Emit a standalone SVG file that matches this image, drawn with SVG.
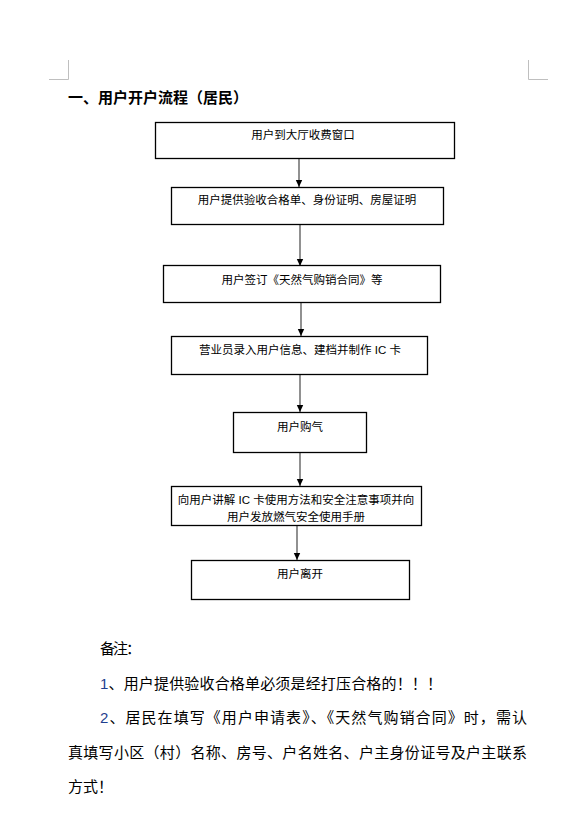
<svg xmlns="http://www.w3.org/2000/svg" width="587" height="828" viewBox="0 0 587 828">
<style>
.box{fill:#fff;stroke:#000;stroke-width:1.3}
.t{font-family:"Liberation Sans","Noto Sans CJK SC",sans-serif;font-size:11.5px;fill:#000;text-anchor:middle}
.body{font-family:"Liberation Sans","Noto Sans CJK SC",sans-serif;font-size:15px;fill:#000}
.title{font-family:"Liberation Sans","Noto Sans CJK SC",sans-serif;font-size:15px;font-weight:bold;fill:#000}
.crop{stroke:#bfbfbf;stroke-width:1;fill:none}
.conn{stroke:#555;stroke-width:1.3;fill:none}
</style>
<defs>
<marker id="ah" markerWidth="8" markerHeight="8" refX="7" refY="4" orient="auto" markerUnits="userSpaceOnUse">
<path d="M0,0.8 L7,4 L0,7.2 Z" fill="#000"/>
</marker>
</defs>
<rect width="587" height="828" fill="#fff"/>
<g id="cropmarks">
<path class="crop" d="M68.5,60 V79.5 H49"/>
<path class="crop" d="M528.5,60 V79.5 H548"/>
</g>
<text class="title" x="68" y="103" textLength="180" lengthAdjust="spacing">一、用户开户流程（居民）</text>
<g id="connectors">
<line class="conn" x1="299" y1="159" x2="299" y2="187" marker-end="url(#ah)"/>
<line class="conn" x1="300" y1="225" x2="300" y2="266" marker-end="url(#ah)"/>
<line class="conn" x1="301" y1="303" x2="301" y2="336" marker-end="url(#ah)"/>
<line class="conn" x1="300" y1="375" x2="300" y2="412" marker-end="url(#ah)"/>
<line class="conn" x1="300" y1="453" x2="300" y2="486" marker-end="url(#ah)"/>
<line class="conn" x1="297" y1="526" x2="297" y2="560" marker-end="url(#ah)"/>
</g>
<g id="n1"><rect class="box" x="155.5" y="122.5" width="299" height="36"/><text class="t" x="303" y="139">用户到大厅收费窗口</text></g>
<g id="n2"><rect class="box" x="171.5" y="187.5" width="272" height="37"/><text class="t" x="307" y="204">用户提供验收合格单、身份证明、房屋证明</text></g>
<g id="n3"><rect class="box" x="163.5" y="265.5" width="277" height="37"/><text class="t" x="302" y="284">用户签订《天然气购销合同》等</text></g>
<g id="n4"><rect class="box" x="171.5" y="336.5" width="256" height="38"/><text class="t" x="300" y="354">营业员录入用户信息、建档并制作 IC 卡</text></g>
<g id="n5"><rect class="box" x="233.5" y="412.5" width="133" height="40"/><text class="t" x="300" y="431">用户购气</text></g>
<g id="n6"><rect class="box" x="171.5" y="486.5" width="250" height="39"/><text class="t" x="296" y="504">向用户讲解 IC 卡使用方法和安全注意事项并向</text><text class="t" x="296" y="521">用户发放燃气安全使用手册</text></g>
<g id="n7"><rect class="box" x="191.5" y="560.5" width="218" height="39"/><text class="t" x="300" y="578">用户离开</text></g>
<text class="body" x="100" y="654" textLength="41" lengthAdjust="spacing">备注：</text>
<text class="body" x="100" y="689" textLength="342" lengthAdjust="spacing"><tspan fill="#1f3f8f">1</tspan>、用户提供验收合格单必须是经打压合格的！！！</text>
<text class="body" x="100" y="723" textLength="427" lengthAdjust="spacing"><tspan fill="#1f3f8f">2</tspan>、居民在填写《用户申请表》、《天然气购销合同》时，需认</text>
<text class="body" x="68" y="758" textLength="459" lengthAdjust="spacing">真填写小区（村）名称、房号、户名姓名、户主身份证号及户主联系</text>
<text class="body" x="68" y="792" textLength="45" lengthAdjust="spacing">方式！</text>
</svg>
